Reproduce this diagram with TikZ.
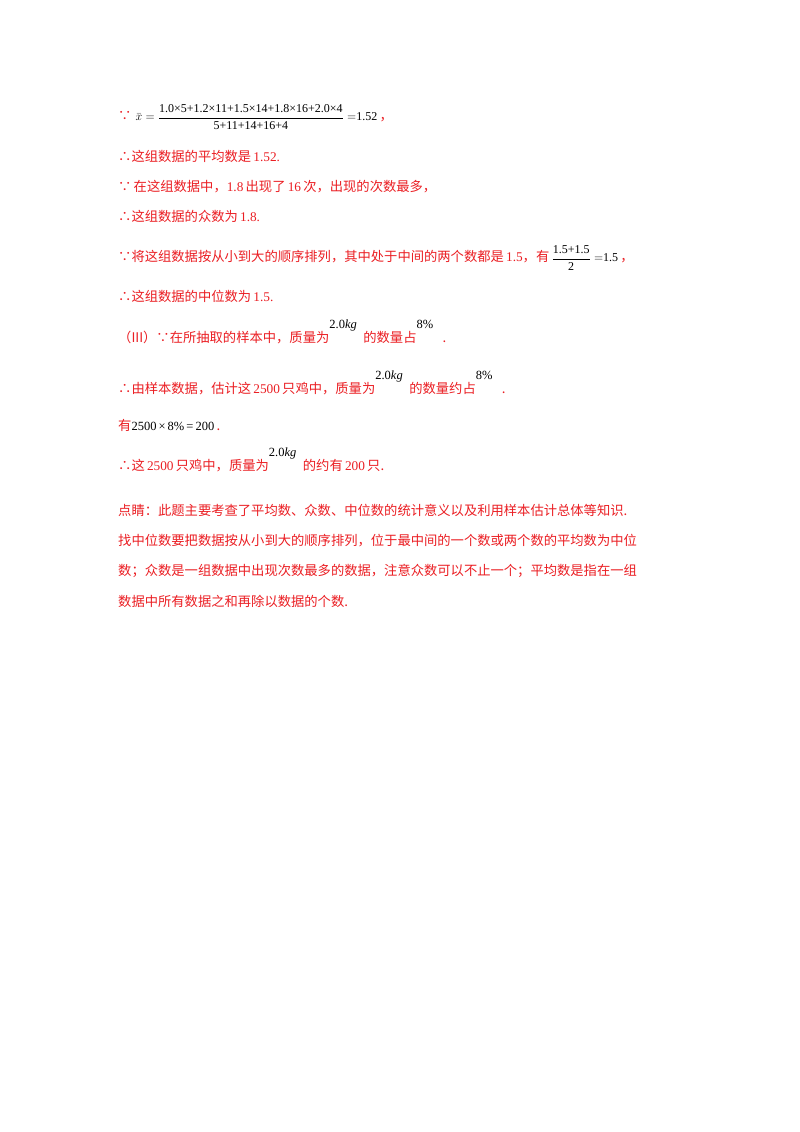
\documentclass[tikz,border=0pt]{standalone}
\usepackage{amsmath}
\usepackage{fontspec}
\setmainfont{Liberation Serif}
\newfontfamily\cjk{Noto Sans CJK SC}
\definecolor{rd}{RGB}{235,30,35}
\newcommand{\supr}[2]{\makebox[#1][l]{\raisebox{14pt}{\textcolor{black}{\fontsize{12.5}{14}\selectfont\rmfamily #2}}}}
\begin{document}
\begin{tikzpicture}[x=1pt,y=1pt,
  ln/.style={anchor=base west,inner sep=0pt,text=rd,font=\cjk\fontsize{13.3}{15}\selectfont}]
\useasboundingbox[fill=white] (0,0) rectangle (800,1132);
\node[ln] (l1) at (118,1132-121) {∵\hspace{4pt}\textcolor{black}{\fontsize{12}{14}\selectfont\rmfamily $\bar{x}=\dfrac{\text{1.0×5+1.2×11+1.5×14+1.8×16+2.0×4}}{\text{5+11+14+16+4}}=$1.52}\,，};
\node[ln] (l2) at (118,1132-162) {∴这组数据的平均数是\,{\rmfamily 1.52.}};
\node[ln] (l3) at (118,1132-192) {∵\,在这组数据中，{\rmfamily 1.8}\,出现了\,{\rmfamily 16}\,次，出现的次数最多，};
\node[ln] (l4) at (118,1132-222) {∴这组数据的众数为\,{\rmfamily 1.8.}};
\node[ln] (l5) at (118,1132-262) {∵将这组数据按从小到大的顺序排列，其中处于中间的两个数都是\,{\rmfamily 1.5}，有\,\textcolor{black}{\fontsize{12}{14}\selectfont\rmfamily $\dfrac{\text{1.5+1.5}}{\text{2}}=$1.5}\,，};
\node[ln] (l6) at (118,1132-302) {∴这组数据的中位数为\,{\rmfamily 1.5.}};
\node[ln] (l7) at (118,1132-343) {（III）∵在所抽取的样本中，质量为\supr{34pt}{2.0\textit{kg}}的数量占\supr{26pt}{8\%}.};
\node[ln] (l8) at (118,1132-394) {∴由样本数据，估计这\,{\rmfamily 2500}\,只鸡中，质量为\supr{34pt}{2.0\textit{kg}}的数量约占\supr{26pt}{8\%}.};
\node[ln] (l9) at (118,1132-431) {有\textcolor{black}{\fontsize{12.5}{14}\selectfont\rmfamily 2500\,×\,8\%\,=\,200}\,.};
\node[ln] (l10) at (118,1132-471) {∴这\,{\rmfamily 2500}\,只鸡中，质量为\supr{34pt}{2.0\textit{kg}}的约有\,{\rmfamily 200}\,只.};
\node[ln] (p1) at (118,1132-516) {点睛：此题主要考查了平均数、众数、中位数的统计意义以及利用样本估计总体等知识.};
\node[ln] (p2) at (118,1132-546) {找中位数要把数据按从小到大的顺序排列，位于最中间的一个数或两个数的平均数为中位};
\node[ln] (p3) at (118,1132-576) {数；众数是一组数据中出现次数最多的数据，注意众数可以不止一个；平均数是指在一组};
\node[ln] (p4) at (118,1132-607) {数据中所有数据之和再除以数据的个数.};
\end{tikzpicture}
\end{document}
